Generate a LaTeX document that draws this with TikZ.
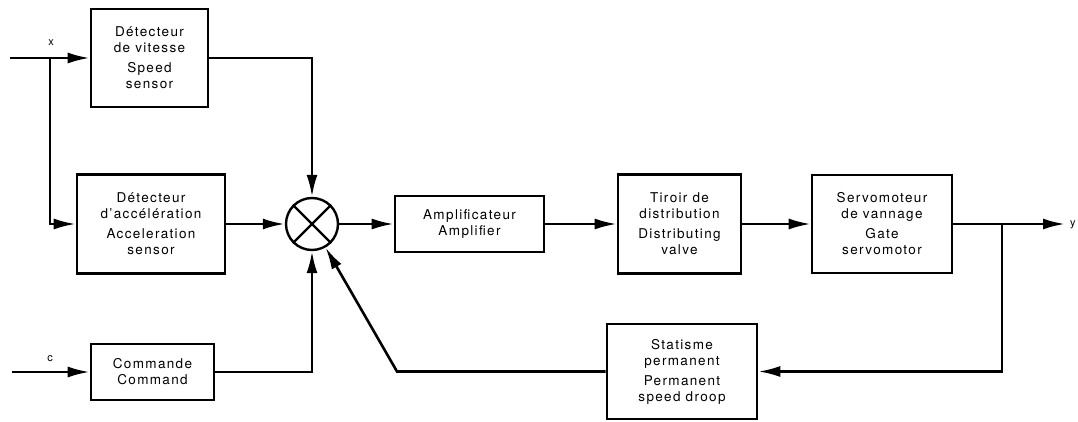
\documentclass[tikz,border=0pt]{standalone}
\usepackage{fontspec}
\setmainfont{TeX Gyre Heros}[LetterSpace=10]
\usetikzlibrary{arrows.meta}
\begin{document}
\begin{tikzpicture}[x=1pt,y=-1pt,
  blk/.style={draw,line width=2.6pt,align=center,inner sep=0pt,
    font=\fontsize{13.5}{16}\selectfont},
  lbl/.style={font=\fontsize{11}{12}\selectfont,inner sep=0pt},
  arr/.style={line width=2.6pt,-{Latex[length=22pt,width=11pt]}},
  ln/.style={line width=2.4pt}]
\path[use as bounding box] (0,0) rectangle (1078,422);
% blocks
\node[blk,minimum width=117pt,minimum height=98pt] (speed) at (149.5,58)
  {Détecteur\\de vitesse\\[4pt]Speed\\sensor};
\node[blk,minimum width=148pt,minimum height=99pt] (accel) at (151,224)
  {Détecteur\\d’accélération\\[4pt]Acceleration\\sensor};
\node[blk,minimum width=123pt,minimum height=56pt] (cmd) at (152.5,372)
  {Commande\\Command};
\node[draw,circle,line width=2.4pt,minimum size=52pt,inner sep=0pt] (sum) at (312,224) {};
\draw[ln] (sum.45) -- (sum.225);
\draw[ln] (sum.135) -- (sum.315);
\node[blk,minimum width=149pt,minimum height=56pt] (amp) at (469.5,224)
  {Amplificateur\\Amplifier};
\node[blk,minimum width=123pt,minimum height=99pt] (tir) at (679.5,224)
  {Tiroir de\\distribution\\[4pt]Distributing\\valve};
\node[blk,minimum width=140pt,minimum height=98pt] (servo) at (882,224)
  {Servomoteur\\de vannage\\[4pt]Gate\\servomotor};
\node[blk,minimum width=150pt,minimum height=95pt] (stat) at (682,371.5)
  {Statisme\\permanent\\[4pt]Permanent\\speed droop};
% coordinates
\coordinate (xin) at (10,58);
\coordinate (xbr) at (50,58);
\coordinate (cin) at (12,372);
\coordinate (ybr) at (1002,224);
\coordinate (yout) at (1065,224);
\coordinate (fbc) at (397,371.5);
% labels
\node[lbl] (xl) at (51,43) {x};
\node[lbl] (cl) at (50,359) {c};
\node[lbl,anchor=west] (yl) at (1070,225) {y};
% connectors
\draw[arr] (xin) -- (speed.west);
\draw[arr] (xbr) |- (accel.west);
\draw[arr] (speed.east) -| (sum.north);
\draw[arr] (accel.east) -- (sum.west);
\draw[arr] (cin) -- (cmd.west);
\draw[arr] (cmd.east) -| (sum.south);
\draw[arr] (sum.east) -- (amp.west);
\draw[arr] (amp.east) -- (tir.west);
\draw[arr] (tir.east) -- (servo.west);
\draw[arr] (servo.east) -- (yout);
\draw[arr] (ybr) |- (stat.east);
\draw[arr] (stat.west) -- (fbc) -- (sum);
\end{tikzpicture}
\end{document}
